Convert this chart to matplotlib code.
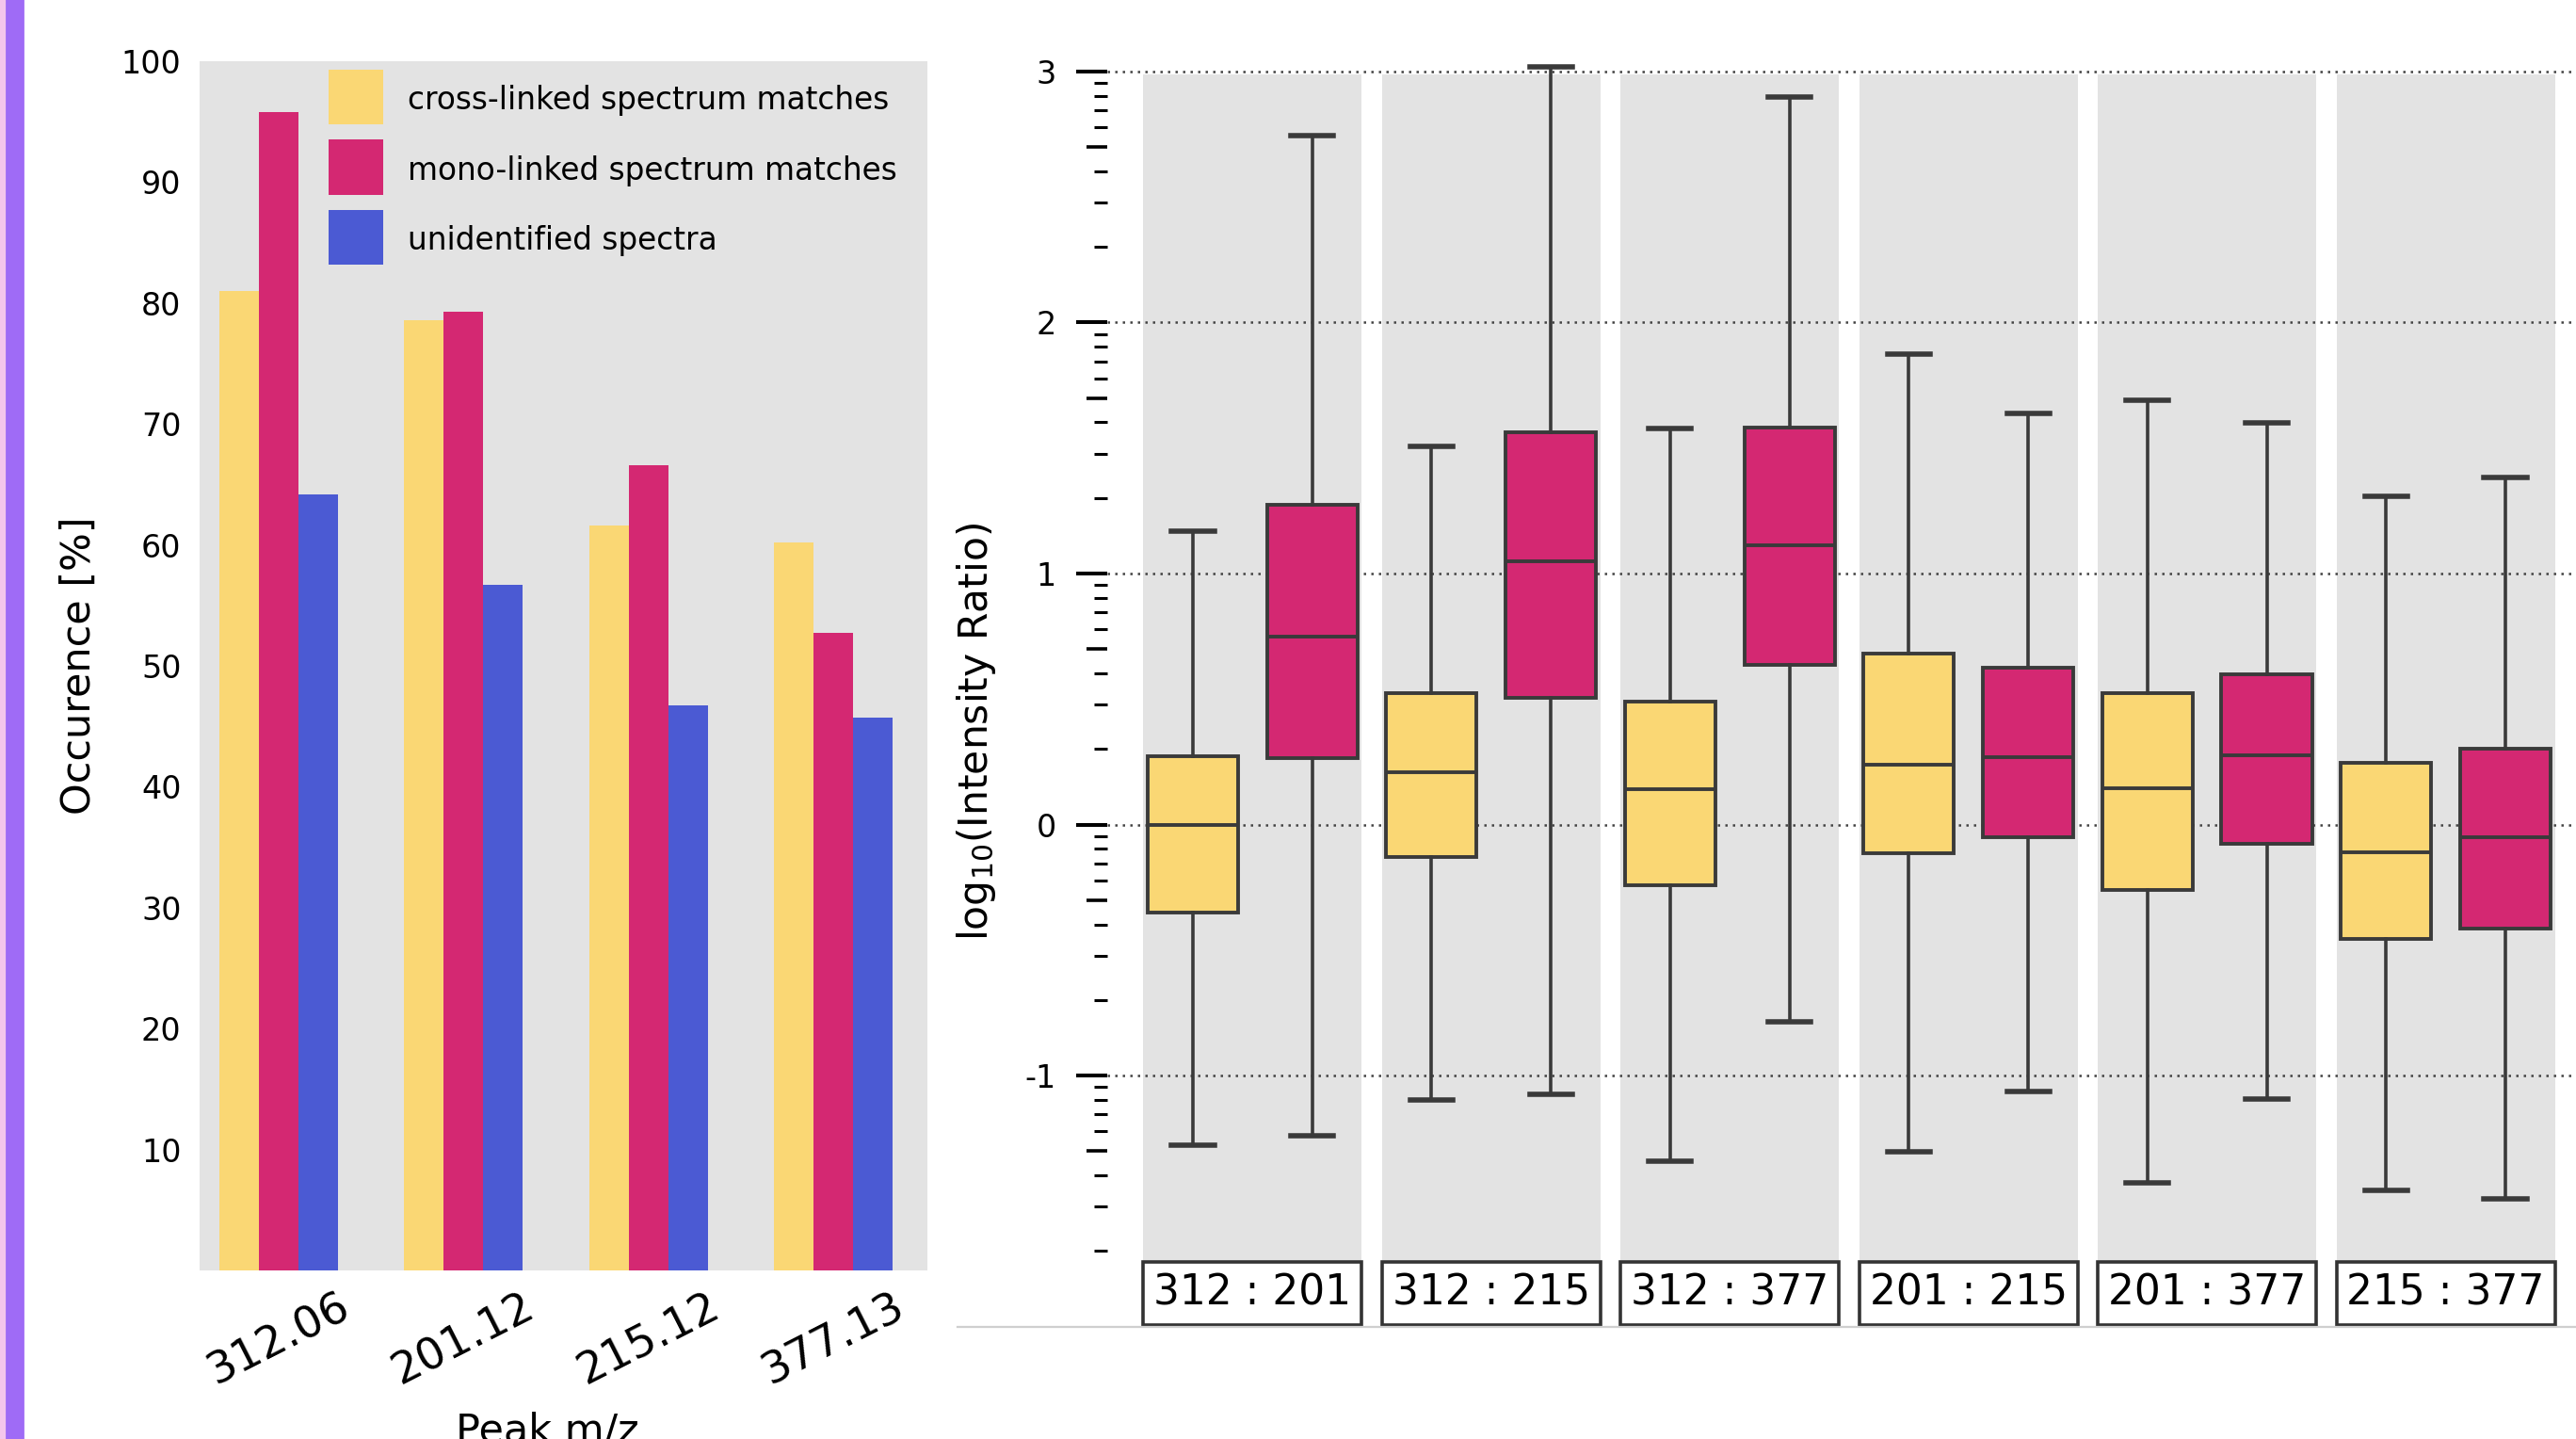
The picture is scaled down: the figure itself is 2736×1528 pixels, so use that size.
import numpy as np
import matplotlib
matplotlib.use("Agg")
import matplotlib.pyplot as plt
from matplotlib.patches import Rectangle
from matplotlib.lines import Line2D
from matplotlib.ticker import FixedLocator

W, H, DPI = 2736, 1528, 200

# ---- bar chart data: occurrence of diagnostic peaks ----
peaks = ["312.06", "201.12", "215.12", "377.13"]
series_names = ["cross-linked spectrum matches",
                "mono-linked spectrum matches",
                "unidentified spectra"]
crosslinked = [81.0, 78.6, 61.6, 60.2]
monolinked = [95.8, 79.3, 66.6, 52.7]
unidentified = [64.2, 56.7, 46.7, 45.7]

# ---- box plot data: log10 intensity ratios of peak pairs ----
pairs = ["312 : 201", "312 : 215", "312 : 377", "201 : 215", "201 : 377", "215 : 377"]
xl_whislo = [-1.277, -1.098, -1.341, -1.302, -1.427, -1.457]
xl_q1 = [-0.350, -0.131, -0.243, -0.113, -0.259, -0.454]
xl_med = [0.000, 0.210, 0.140, 0.237, 0.146, -0.110]
xl_q3 = [0.272, 0.525, 0.490, 0.682, 0.525, 0.244]
xl_whishi = [1.169, 1.507, 1.577, 1.874, 1.689, 1.309]

ml_whislo = [-1.239, -1.074, -0.786, -1.063, -1.093, -1.490]
ml_q1 = [0.263, 0.505, 0.637, -0.050, -0.077, -0.413]
ml_med = [0.749, 1.047, 1.112, 0.270, 0.276, -0.050]
ml_q3 = [1.273, 1.564, 1.582, 0.623, 0.597, 0.303]
ml_whishi = [2.746, 3.020, 2.900, 1.636, 1.602, 1.381]

YEL = "#FAD774"
MAG = "#D42872"
BLU = "#4B5AD3"
BG = "#E3E3E3"
DARK = "#3A3A3A"

plt.rcParams["font.family"] = ["DejaVu Sans"]

fig = plt.figure(figsize=(W / DPI, H / DPI), dpi=DPI)


def fx(px):
    return px / W


def fy(py):
    return 1 - py / H


# decorative stripes along the left edge
fig.patches.append(Rectangle((0, 0), fx(7), 1, transform=fig.transFigure,
                             color="#F4C6EC", zorder=0))
fig.patches.append(Rectangle((fx(7), 0), fx(17), 1, transform=fig.transFigure,
                             color="#9F6BF6", zorder=0))

# ================= left: grouped bar chart =================
ax1 = fig.add_axes([fx(212), fy(1349), fx(985 - 212), (1349 - 65) / H])
ax1.set_facecolor(BG)
x = np.arange(len(peaks))
w = 0.214
colors = (YEL, MAG, BLU)
for j, vals in enumerate((crosslinked, monolinked, unidentified)):
    ax1.bar(x + (j - 1) * w, vals, w, color=colors[j], zorder=2)
ax1.set_xlim(-0.428, 3.508)
ax1.set_ylim(0, 100)
ax1.set_yticks(range(10, 101, 10))
ax1.tick_params(axis="y", length=0, pad=7, labelsize=12)
ax1.set_xticks(x)
ax1.set_xticklabels(peaks, rotation=27, fontsize=16.8)
ax1.tick_params(axis="x", length=0, pad=6)
for s in ax1.spines.values():
    s.set_visible(False)

# legend: square swatches with labels, placed inside the plot area
for j, name in enumerate(series_names):
    top = 74 + j * 74.5
    fig.patches.append(Rectangle((fx(349), fy(top + 58)), fx(58), 58 / H,
                                 transform=fig.transFigure, facecolor=colors[j],
                                 edgecolor="none", zorder=5))
    fig.text(fx(433), fy(top + 29), name, ha="left", va="center_baseline",
             fontsize=11.8, zorder=6)

fig.text(fx(84), fy(707), "Occurence [%]", rotation=90, ha="center", va="center",
         fontsize=15.5)
fig.text(fx(581), fy(1499), "Peak m/z", ha="center", va="top", fontsize=15.5)

# ================= right: paired box plots =================
ax2 = fig.add_axes([fx(1176), fy(1408.6), 1 - fx(1176), (1408.6 - 43.9) / H])
ax2.set_xlim(-0.609, 5.546)
ax2.set_ylim(-2.0, 3.12)

pw = 0.916
for i, lab in enumerate(pairs):
    ax2.add_patch(Rectangle((i - pw / 2, -1.742), pw, 2.99 + 1.742,
                            facecolor=BG, edgecolor="none", zorder=0.2))
    ax2.add_patch(Rectangle((i - pw / 2, -1.993), pw, 0.251, facecolor="white",
                            edgecolor="#333333", lw=1.3, zorder=3))
    ax2.text(i, -1.868, lab, ha="center", va="center", fontsize=15.8, zorder=4)


def stats(lo, q1, med, q3, hi):
    return [dict(whislo=a, q1=b, med=c, q3=d, whishi=e, fliers=[])
            for a, b, c, d, e in zip(lo, q1, med, q3, hi)]


common = dict(widths=0.379, capwidths=0.178, patch_artist=True, showfliers=False,
              manage_ticks=False,
              whiskerprops=dict(color=DARK, lw=1.3),
              capprops=dict(color=DARK, lw=2.0),
              medianprops=dict(color=DARK, lw=1.4),
              zorder=3)
pos = np.arange(len(pairs))
ax2.bxp(stats(xl_whislo, xl_q1, xl_med, xl_q3, xl_whishi), positions=pos - 0.25,
        boxprops=dict(facecolor=YEL, edgecolor=DARK, lw=1.4), **common)
ax2.bxp(stats(ml_whislo, ml_q1, ml_med, ml_q3, ml_whishi), positions=pos + 0.25,
        boxprops=dict(facecolor=MAG, edgecolor=DARK, lw=1.4), **common)

# axis: integer ticks with labels, log-spaced minor ticks
major = [-1, 0, 1, 2, 3]
ax2.set_yticks(major)
ax2.set_yticklabels(["-1", "0", "1", "2", "3"])
minor = [n + np.log10(k) for n in range(-2, 3) for k in (2, 3, 4, 6, 7, 8, 9)]
minor = [m for m in minor if -1.75 < m < 3]
ax2.yaxis.set_minor_locator(FixedLocator(minor))
ax2.tick_params(axis="y", which="major", length=11.9, width=1.45, pad=7.5,
                labelsize=12, color="black")
ax2.tick_params(axis="y", which="minor", length=5.0, width=1.1, color="black")
ax2.set_xticks([])
ax2.set_axisbelow(True)
ax2.yaxis.grid(True, which="major", linestyle=(0, (1, 2.2)), color="#444444", lw=0.9)
for s in ax2.spines.values():
    s.set_visible(False)

halves = [n + np.log10(5) for n in range(-2, 3)]
halves = [m for m in halves if -1.75 < m < 3]
sec = ax2.secondary_yaxis("left")
sec.set_yticks(halves)
sec.tick_params(axis="y", length=7.9, width=1.3, labelleft=False, color="black")
for s in sec.spines.values():
    s.set_visible(False)

fig.text(fx(1036.5), fy(776.5), r"log$_{10}$(Intensity Ratio)", rotation=90,
         ha="center", va="center", fontsize=15.3)

fig.add_artist(Line2D([fx(1017), 1], [fy(1408.6), fy(1408.6)],
                      transform=fig.transFigure, color="#cfcfcf", lw=0.8))

fig.savefig("out.png", dpi=DPI)
